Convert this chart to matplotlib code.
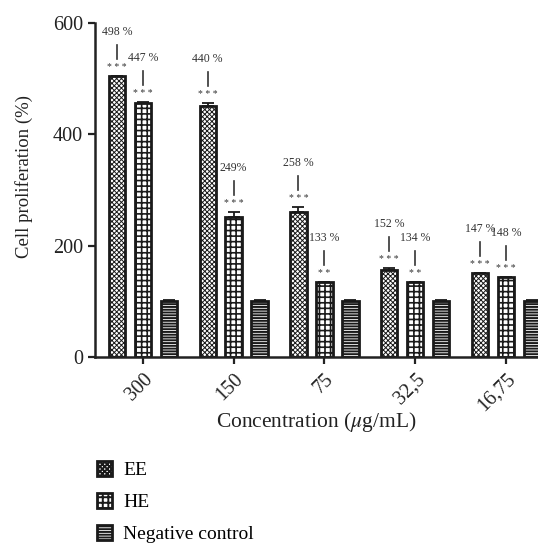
import numpy as np
import matplotlib
matplotlib.use("Agg")
import matplotlib.pyplot as plt
from matplotlib.transforms import ScaledTranslation

plt.rcParams['font.family'] = ['Liberation Serif', 'DejaVu Serif']
plt.rcParams['mathtext.fontset'] = 'stix'

concentrations = ["300", "150", "75", "32,5", "16,75"]
ee_values = [505, 450, 260, 156, 151]
he_values = [455, 251, 135, 135, 144]
ctrl_values = [100, 100, 100, 100, 100]
ee_err = [0, 5, 9, 4, 0]
he_err = [2, 9, 0, 0, 0]
ctrl_err = [3, 3, 3, 3, 3]
ee_stars = ["***", "***", "***", "***", "***"]
he_stars = ["***", "***", "**", "**", "***"]
ee_labels = ["498 %", "440 %", "258 %", "152 %", "147 %"]
he_labels = ["447 %", "249%", "133 %", "134 %", "148 %"]
series_names = ["EE", "HE", "Negative control"]
yticks = [0, 200, 400, 600]

W, H = 538, 544
fig = plt.figure(figsize=(W / 100, H / 100), dpi=100)
ax = fig.add_axes([95 / W, 1 - 357 / H, 1 - 95 / W, (357 - 22.7) / H])

x = np.arange(len(concentrations))
off = 0.286
bw = 0.18
hatch_lw = {"EE": 0.7, "HE": 1.2, "Negative control": 1.4}
hatches = {"EE": "xxxxxxx", "HE": "+++", "Negative control": "------"}
series = [("EE", ee_values, ee_err, -off), ("HE", he_values, he_err, 0.0),
          ("Negative control", ctrl_values, ctrl_err, off)]
handles = []
for name, vals, err, dx in series:
    plt.rcParams['hatch.linewidth'] = hatch_lw[name]
    bars = ax.bar(x + dx, vals, width=bw, color='white', edgecolor='#1a1a1a',
                  linewidth=2.0, hatch=hatches[name], label=name, zorder=2)
    for b in bars:
        try:
            b.set_hatch_linewidth(hatch_lw[name])
        except Exception:
            pass
    handles.append(bars)
    ax.errorbar(x + dx, vals, yerr=[np.zeros(len(err)), err], fmt='none',
                ecolor='#1a1a1a', elinewidth=1.3, capsize=4, capthick=1.3, zorder=3)

ax.set_xlim(-0.527, 4.352)
ax.set_ylim(0, 600)
fig.canvas.draw()

def annotate(xs, vals, errs, stars, labels):
    for xi, v, e, s, lab in zip(xs, vals, errs, stars, labels):
        top = v + e
        ax.annotate(" ".join(s), (xi, top), xytext=(0, 4), textcoords='offset pixels',
                    ha='center', va='bottom', fontsize=7, color='#333333')
        px, py = ax.transData.transform((xi, top))
        y1 = ax.transData.inverted().transform((px, py + 17))[1]
        y2 = ax.transData.inverted().transform((px, py + 31))[1]
        ax.plot([xi, xi], [y1, y2], color='#333333', lw=1.2, zorder=3)
        ax.annotate(lab, (xi, top), xytext=(0, 44), textcoords='offset pixels',
                    ha='center', va='center', fontsize=8.5, color='#333333')

annotate(x - off, ee_values, ee_err, ee_stars, ee_labels)
annotate(x, he_values, he_err, he_stars, he_labels)

ax.set_yticks(yticks)
ax.set_yticklabels([str(t) for t in yticks], fontsize=14.5, color='#222222')
ax.set_xticks(x)
ax.set_xticklabels(concentrations, rotation=45, ha='right', rotation_mode='anchor',
                   fontsize=14.5, color='#222222')
shift = ScaledTranslation(-5 / 100, 0, fig.dpi_scale_trans)
for lbl in ax.get_xticklabels():
    lbl.set_transform(lbl.get_transform() + shift)
ax.tick_params(axis='both', width=1.6, length=5, color='#222222')
ax.tick_params(axis='x', pad=4)
for s in ['top', 'right']:
    ax.spines[s].set_visible(False)
for s in ['left', 'bottom']:
    ax.spines[s].set_linewidth(1.8)
    ax.spines[s].set_color('#222222')

ax.set_ylabel("Cell proliferation (%)", fontsize=13.5, color='#222222')
ax.yaxis.set_label_coords(-(95 - 24) / (W - 95), (357 - 176) / (357 - 22.7))
ax.set_xlabel(r"Concentration ($\mu$g/mL)", fontsize=15.5, color='#222222')
ax.xaxis.set_label_coords(0.5, -(422 - 357) / (357 - 22.7))
ax.xaxis.label.set_va('center')
ax.yaxis.label.set_va('center')

fig.legend(handles=handles, labels=series_names, loc='upper left',
           bbox_to_anchor=(89 / W, 1 - 453 / H), frameon=False, fontsize=14,
           handlelength=0.8, handleheight=0.8, labelspacing=0.72, handletextpad=0.55,
           borderaxespad=0)

fig.savefig("out.png", dpi=100)
